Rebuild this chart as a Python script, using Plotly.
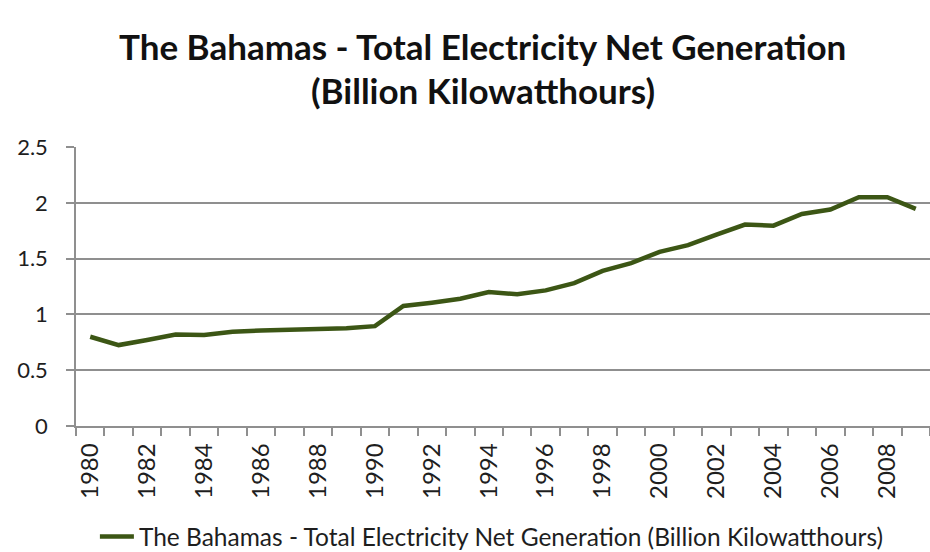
import plotly.graph_objects as go

# Annual net electricity generation, The Bahamas (billion kWh)
years = list(range(1980, 2010))
generation = [0.80, 0.725, 0.77, 0.82, 0.815, 0.845, 0.855, 0.86, 0.86, 0.875,
              0.895, 1.075, 1.105, 1.14, 1.20, 1.18, 1.215, 1.28, 1.39, 1.46,
              1.56, 1.62, 1.715, 1.805, 1.795, 1.90, 1.94, 2.05, 2.05, 1.945]
year_labels = [str(y) for y in range(1980, 2010, 2)]
y_ticks = [0, 0.5, 1, 1.5, 2, 2.5]
y_tick_text = ["0", "0.5", "1", "1.5", "2", "2.5"]

series_name = "The Bahamas - Total Electricity Net Generation (Billion Kilowatthours)"
title_lines = ["The Bahamas - Total Electricity Net Generation", "(Billion Kilowatthours)"]

FONT = "Lato"
GRID = "#8f8f8f"
LINE = "#3c5615"
TEXT = "#1e1e1e"

fig = go.Figure(
    go.Scatter(
        x=years,
        y=generation,
        mode="lines",
        name=series_name,
        line=dict(color=LINE, width=4.5),
        showlegend=True,
    )
)

# two-line bold heading, placed above the plot area
for text, ypos in zip(title_lines, [1.361, 1.203]):
    fig.add_annotation(
        text="<b>" + text + "</b>",
        xref="paper", yref="paper",
        x=0.476, y=ypos,
        xanchor="center", yanchor="middle",
        showarrow=False,
        font=dict(family=FONT, size=35, color="#111111"),
    )

fig.update_layout(
    width=930,
    height=552,
    margin=dict(l=76, r=0, t=147, b=126, autoexpand=False),
    paper_bgcolor="white",
    plot_bgcolor="white",
    font=dict(family=FONT, color=TEXT),
    showlegend=True,
    legend=dict(
        orientation="h",
        x=0.487,
        xanchor="center",
        yref="container",
        y=0.028,
        yanchor="middle",
        font=dict(family=FONT, size=24.5, color=TEXT),
        itemwidth=34,
    ),
)

fig.update_xaxes(
    range=[1979.5, 2009.5],
    automargin=False,
    tickmode="array",
    tickvals=[int(t) for t in year_labels],
    ticktext=year_labels,
    tickangle=-90,
    ticks="",
    ticklabelstandoff=6,
    tickfont=dict(family=FONT, size=24, color=TEXT),
    showgrid=False,
    showline=True,
    linecolor=GRID,
    linewidth=1.5,
    zeroline=False,
    minor=dict(
        tickmode="linear",
        tick0=1979.5,
        dtick=1,
        ticks="outside",
        ticklen=8,
        tickcolor=GRID,
        tickwidth=1.5,
        showgrid=False,
    ),
)

fig.update_yaxes(
    range=[0, 2.5],
    automargin=False,
    tickmode="array",
    tickvals=y_ticks,
    ticktext=y_tick_text,
    ticks="outside",
    ticklen=8,
    tickcolor=GRID,
    tickwidth=1.5,
    ticklabelstandoff=14,
    tickfont=dict(family=FONT, size=22, color=TEXT),
    showgrid=True,
    gridcolor=GRID,
    gridwidth=1.5,
    showline=True,
    linecolor=GRID,
    linewidth=1.5,
    zeroline=False,
)

fig.write_html("out.html")
